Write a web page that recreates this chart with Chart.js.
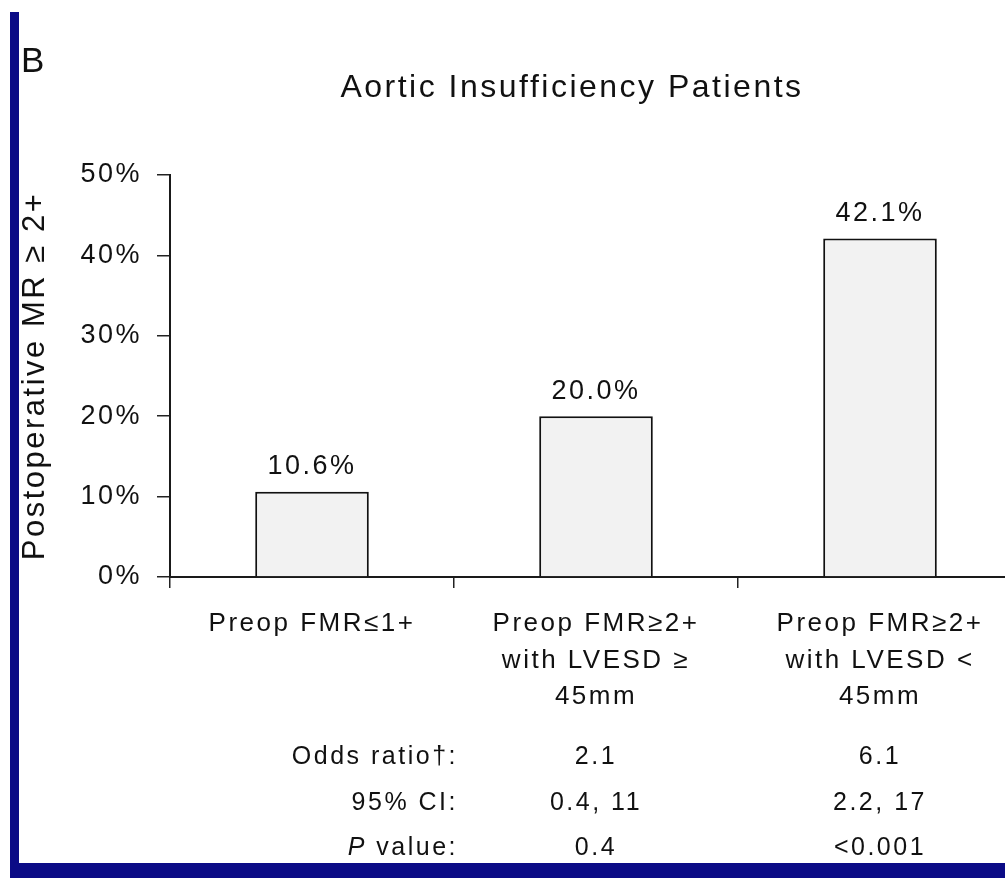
<!DOCTYPE html>
<html>
<head>
<meta charset="utf-8">
<script src="https://cdn.jsdelivr.net/npm/chart.js@4.4.0/dist/chart.umd.min.js"></script>
<style>
  html, body { margin: 0; padding: 0; background: #fff; overflow: hidden; }
  body { width: 1005px; height: 878px; position: relative; }
  #wrap { position: absolute; left: 0; top: 0; width: 1030px; height: 878px; }
  .frame-left { position: absolute; left: 10px; top: 12px; width: 9px; height: 866px; background: #0b0b86; }
  .frame-bottom { position: absolute; left: 10px; top: 863px; width: 995px; height: 15px; background: #0b0b86; }
</style>
</head>
<body>
<div id="wrap"><canvas id="aiChart" width="1030" height="878"></canvas></div>
<div class="frame-left"></div>
<div class="frame-bottom"></div>
<script>
const ctx = document.getElementById('aiChart').getContext('2d');

const categories = [
    ['Preop FMR≤1+'],
    ['Preop FMR≥2+', 'with LVESD ≥', '45mm'],
    ['Preop FMR≥2+', 'with LVESD <', '45mm']
];
const mrRates = [10.6, 20.0, 42.1];
const yTicks = [0, 10, 20, 30, 40, 50];

const rowLabels = ['Odds ratio†:', '95% CI:', 'P value:'];
const oddsRatios = ['', '2.1', '6.1'];
const confIntervals = ['', '0.4, 11', '2.2, 17'];
const pValues = ['', '0.4', '<0.001'];

const FONT = '"Liberation Sans", Arial, Helvetica, sans-serif';
const INK = '#111';
const SPACING = '2.5px'; // the scanned figure has loose, wide lettering

// letter spacing is context state, so set it again whenever chart.js may have reset the canvas
const spacing = {
    id: 'spacing',
    beforeLayout(chart) { chart.ctx.letterSpacing = SPACING; },
    beforeDraw(chart) { chart.ctx.letterSpacing = SPACING; }
};

const extras = {
    id: 'extras',
    afterDraw(chart) {
        const c = chart.ctx;
        const xs = chart.scales.x;
        const area = chart.chartArea;
        c.save();
        c.letterSpacing = SPACING;
        c.fillStyle = INK;

        // panel letter and title
        c.textBaseline = 'alphabetic';
        c.textAlign = 'left';
        c.font = '35px ' + FONT;
        c.fillText('B', 21, 72);
        c.textAlign = 'center';
        c.font = '32px ' + FONT;
        c.fillText('Aortic Insufficiency Patients', 572, 97);

        // value above each bar
        c.font = '27px ' + FONT;
        c.textBaseline = 'middle';
        chart.getDatasetMeta(0).data.forEach((bar, i) => {
            c.fillText(mrRates[i].toFixed(1) + '%', bar.x, bar.y - 25);
        });

        // stats table under the axis labels
        c.font = '25px ' + FONT;
        const rows = [oddsRatios, confIntervals, pValues];
        const rowOffsets = [180, 226, 271];
        const labelRight = xs.getPixelForValue(0.5) + 4;
        rows.forEach((vals, r) => {
            const y = area.bottom + rowOffsets[r];
            const label = rowLabels[r];
            c.textAlign = 'right';
            if (label.startsWith('P ')) {
                const rest = label.slice(1);
                c.font = '25px ' + FONT;
                c.fillText(rest, labelRight, y);
                const w = c.measureText(rest).width;
                c.font = 'italic 25px ' + FONT;
                c.fillText('P', labelRight - w, y);
                c.font = '25px ' + FONT;
            } else {
                c.fillText(label, labelRight, y);
            }
            c.textAlign = 'center';
            vals.forEach((v, i) => {
                if (v) c.fillText(v, xs.getPixelForValue(i), y);
            });
        });
        c.restore();
    }
};

new Chart(ctx, {
    type: 'bar',
    data: {
        labels: categories,
        datasets: [{
            data: mrRates,
            backgroundColor: '#f2f2f2',
            borderColor: '#111',
            borderWidth: 2,
            barPercentage: 0.4,
            categoryPercentage: 1
        }]
    },
    options: {
        responsive: false,
        animation: false,
        devicePixelRatio: 1,
        layout: { padding: { top: 175, right: 8, bottom: 0, left: 0 } },
        plugins: {
            legend: { display: false },
            tooltip: { enabled: false },
            title: { display: false }
        },
        scales: {
            x: {
                grid: { drawOnChartArea: false, drawTicks: true, tickLength: 11, color: '#222', lineWidth: 1.5, offset: true },
                border: { display: true, color: '#1a1a1a', width: 2 },
                ticks: {
                    color: INK,
                    font: { family: FONT, size: 26, lineHeight: 1.42 },
                    padding: 17,
                    maxRotation: 0,
                    minRotation: 0,
                    autoSkip: false
                },
                afterFit(scale) { scale.height = 301; }
            },
            y: {
                min: 0,
                max: 50,
                afterBuildTicks(scale) { scale.ticks = yTicks.map(v => ({ value: v })); },
                grid: { drawOnChartArea: false, drawTicks: true, tickLength: 13, color: '#222', lineWidth: 1.5 },
                border: { display: true, color: '#1a1a1a', width: 2 },
                ticks: {
                    color: INK,
                    font: { family: FONT, size: 27 },
                    padding: 15,
                    callback: (value) => value + '%'
                },
                title: {
                    display: true,
                    text: 'Postoperative MR ≥ 2+',
                    color: INK,
                    font: { family: FONT, size: 31 },
                    padding: { top: 17, bottom: 0 }
                },
                afterFit(scale) { scale.width = 170; }
            }
        }
    },
    plugins: [spacing, extras]
});
</script>
</body>
</html>
